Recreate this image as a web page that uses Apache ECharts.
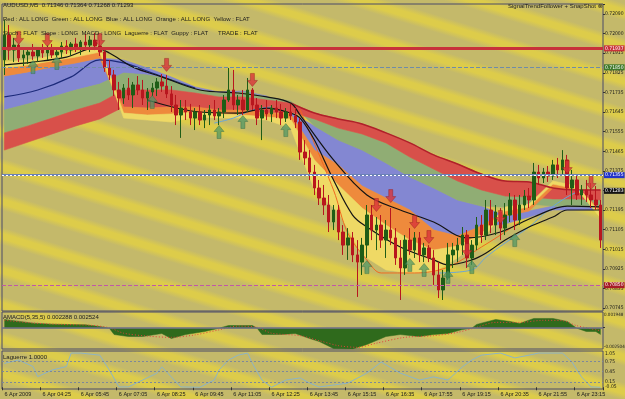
<!DOCTYPE html>
<html>
<head>
<meta charset="utf-8">
<script src="https://cdn.jsdelivr.net/npm/echarts@6.0.0/dist/echarts.min.js"></script>
<style>
html,body{margin:0;padding:0;background:#c5ba6b;}
#chart{width:625px;height:399px;background:repeating-linear-gradient(17deg,#c4b96a 0px,#c4b96a 16px,#ddcc4a 22px,#ddcc4a 27px,#c4b96a 33px);}
</style>
</head>
<body>
<div id="chart"></div>
<script>
// ---------- categories / ticks ----------
const candleCount = 126; // 10-minute slots
const categories = Array.from({length: candleCount}, (_, i) => i);
const xTickLabels = ['6 Apr 2009','6 Apr 04:25','6 Apr 05:45','6 Apr 07:05','6 Apr 08:25','6 Apr 09:45','6 Apr 11:05','6 Apr 12:25','6 Apr 13:45','6 Apr 15:15','6 Apr 16:35','6 Apr 17:55','6 Apr 19:15','6 Apr 20:35','6 Apr 21:55','6 Apr 23:15'];
const priceTickLabels = ['0.70745','0.70835','0.70925','0.71015','0.71105','0.71195','0.71285','0.71375','0.71465','0.71555','0.71645','0.71735','0.71825','0.71915','0.72000','0.72090'];

// ---------- candles ----------
const openP = [0.71884,0.71998,0.71929,0.71952,0.71893,0.71907,0.71920,0.71902,0.71929,0.71916,
0.71939,0.71907,0.71920,0.71948,0.71929,0.71957,0.71943,0.71966,0.71952,0.71975,
0.71948,0.71920,0.71847,0.71815,0.71746,0.71709,0.71755,0.71723,0.71769,0.71746,
0.71709,0.71737,0.71755,0.71783,0.71764,0.71728,0.71677,0.71631,0.71663,0.71645,
0.71617,0.71645,0.71608,0.71631,0.71654,0.71627,0.71645,0.71700,0.71746,0.71677,
0.71700,0.71654,0.71746,0.71677,0.71617,0.71654,0.71636,0.71663,0.71645,0.71617,
0.71645,0.71627,0.71599,0.71461,0.71434,0.71369,0.71296,0.71250,0.71218,0.71140,
0.71195,0.71094,0.71034,0.71067,0.70989,0.70956,0.71034,0.71172,0.71103,0.71126,
0.71057,0.71103,0.71067,0.70975,0.70929,0.71057,0.71011,0.71067,0.70989,0.71021,
0.70975,0.70897,0.70828,0.70883,0.70989,0.71011,0.71034,0.71080,0.70975,0.71034,
0.71126,0.71080,0.71195,0.71126,0.71186,0.71112,0.71172,0.71241,0.71149,0.71218,
0.71259,0.71241,0.71369,0.71342,0.71369,0.71351,0.71402,0.71379,0.71425,0.71296,
0.71333,0.71264,0.71287,0.71264,0.71241,0.71218];
const highP = [0.72067,0.72044,0.71985,0.71957,0.71929,0.71939,0.71957,0.71943,0.71957,0.71952,
0.71957,0.71939,0.71966,0.71975,0.71966,0.71985,0.71975,0.72003,0.71994,0.72008,
0.71975,0.71929,0.71884,0.71838,0.71783,0.71773,0.71801,0.71783,0.71810,0.71792,
0.71755,0.71778,0.71801,0.71819,0.71815,0.71764,0.71723,0.71700,0.71700,0.71682,
0.71663,0.71677,0.71654,0.71677,0.71700,0.71663,0.71723,0.71847,0.71838,0.71723,
0.71746,0.71801,0.71755,0.71709,0.71677,0.71700,0.71677,0.71700,0.71682,0.71663,
0.71682,0.71663,0.71617,0.71516,0.71470,0.71402,0.71333,0.71310,0.71264,0.71218,
0.71218,0.71126,0.71112,0.71094,0.71057,0.71067,0.71218,0.71218,0.71163,0.71172,
0.71149,0.71204,0.71112,0.71057,0.71080,0.71112,0.71094,0.71094,0.71044,0.71034,
0.71011,0.70956,0.70920,0.71044,0.71044,0.71067,0.71117,0.71103,0.71057,0.71163,
0.71172,0.71241,0.71241,0.71218,0.71204,0.71227,0.71273,0.71264,0.71264,0.71287,
0.71296,0.71411,0.71402,0.71388,0.71397,0.71425,0.71434,0.71470,0.71448,0.71379,
0.71356,0.71310,0.71333,0.71319,0.71305,0.71241];
const lowP = [0.71815,0.71884,0.71874,0.71874,0.71856,0.71865,0.71884,0.71874,0.71893,0.71884,
0.71893,0.71897,0.71893,0.71911,0.71902,0.71920,0.71907,0.71929,0.71920,0.71929,
0.71902,0.71829,0.71792,0.71718,0.71654,0.71682,0.71700,0.71663,0.71723,0.71677,
0.71654,0.71718,0.71718,0.71737,0.71709,0.71645,0.71585,0.71526,0.71608,0.71585,
0.71562,0.71585,0.71571,0.71585,0.71608,0.71585,0.71617,0.71691,0.71654,0.71631,
0.71631,0.71645,0.71654,0.71585,0.71516,0.71608,0.71599,0.71617,0.71585,0.71599,
0.71608,0.71571,0.71425,0.71402,0.71333,0.71264,0.71218,0.71172,0.71094,0.71103,
0.71057,0.70989,0.70966,0.70956,0.70796,0.70897,0.70975,0.71057,0.71011,0.71021,
0.70975,0.71034,0.70943,0.70782,0.70897,0.70989,0.70975,0.70956,0.70956,0.70956,
0.70851,0.70791,0.70782,0.70874,0.70929,0.70956,0.70989,0.70929,0.70943,0.71011,
0.71044,0.71057,0.71089,0.71080,0.71057,0.71080,0.71140,0.71103,0.71126,0.71195,
0.71204,0.71218,0.71310,0.71319,0.71324,0.71333,0.71342,0.71356,0.71264,0.71218,
0.71241,0.71218,0.71232,0.71204,0.71195,0.71021];
const closeP = [0.71998,0.71929,0.71952,0.71893,0.71907,0.71920,0.71902,0.71929,0.71916,0.71939,
0.71907,0.71920,0.71948,0.71929,0.71957,0.71943,0.71966,0.71952,0.71975,0.71948,
0.71920,0.71847,0.71815,0.71746,0.71709,0.71755,0.71723,0.71769,0.71746,0.71709,
0.71737,0.71755,0.71783,0.71764,0.71728,0.71677,0.71631,0.71663,0.71645,0.71617,
0.71645,0.71608,0.71631,0.71654,0.71627,0.71645,0.71700,0.71746,0.71677,0.71700,
0.71654,0.71746,0.71677,0.71617,0.71654,0.71636,0.71663,0.71645,0.71617,0.71645,
0.71627,0.71599,0.71461,0.71434,0.71369,0.71296,0.71250,0.71218,0.71140,0.71195,
0.71094,0.71034,0.71067,0.70989,0.70956,0.71034,0.71172,0.71103,0.71126,0.71057,
0.71103,0.71067,0.70975,0.70929,0.71057,0.71011,0.71067,0.70989,0.71021,0.70975,
0.70897,0.70828,0.70883,0.70989,0.71011,0.71034,0.71080,0.70975,0.71034,0.71126,
0.71080,0.71195,0.71126,0.71186,0.71112,0.71172,0.71241,0.71149,0.71218,0.71259,
0.71241,0.71369,0.71342,0.71369,0.71351,0.71402,0.71379,0.71425,0.71296,0.71333,
0.71264,0.71287,0.71264,0.71241,0.71218,0.71057];

// ---------- MA ribbon bands (sampled every 5 slots) ----------
const ribbonIdx = [0,5,10,15,20,25,30,35,40,45,50,55,60,65,70,75,80,85,90,95,100,105,110,115,120,125];
const redTop = [0.71549,0.71581,0.71617,0.71654,0.71686,0.71746,0.71746,0.71746,0.71732,0.71714,0.71714,0.71700,0.71686,0.71640,0.71613,0.71590,0.71549,0.71503,0.71448,0.71406,0.71360,0.71328,0.71324,0.71296,0.71287,0.71287];
const redBot = [0.71470,0.71507,0.71544,0.71581,0.71613,0.71668,0.71663,0.71668,0.71668,0.71654,0.71654,0.71640,0.71645,0.71613,0.71571,0.71544,0.71503,0.71438,0.71383,0.71328,0.71287,0.71259,0.71255,0.71246,0.71246,0.71241];
const greenTop = [0.71654,0.71682,0.71714,0.71746,0.71773,0.71824,0.71815,0.71796,0.71750,0.71732,0.71737,0.71714,0.71695,0.71613,0.71571,0.71544,0.71503,0.71438,0.71383,0.71328,0.71287,0.71259,0.71255,0.71246,0.71246,0.71241];
const greenBot = [0.71549,0.71581,0.71617,0.71654,0.71686,0.71746,0.71746,0.71746,0.71732,0.71714,0.71714,0.71700,0.71686,0.71581,0.71516,0.71470,0.71411,0.71347,0.71296,0.71241,0.71213,0.71209,0.71223,0.71213,0.71209,0.71209];
const blueTop = [0.71810,0.71829,0.71851,0.71870,0.71893,0.71884,0.71847,0.71806,0.71760,0.71737,0.71741,0.71718,0.71645,0.71581,0.71516,0.71470,0.71411,0.71347,0.71296,0.71241,0.71213,0.71168,0.71190,0.71213,0.71209,0.71209];
const blueBot = [0.71654,0.71682,0.71714,0.71746,0.71773,0.71824,0.71815,0.71792,0.71750,0.71732,0.71737,0.71714,0.71636,0.71470,0.71402,0.71305,0.71250,0.71195,0.71103,0.71076,0.71122,0.71131,0.71163,0.71195,0.71195,0.71195];
const orangeTop = [0.71847,0.71861,0.71879,0.71897,0.71920,0.71668,0.71663,0.71668,0.71668,0.71654,0.71654,0.71640,0.71636,0.71470,0.71402,0.71305,0.71250,0.71195,0.71103,0.71076,0.71122,0.71190,0.71209,0.71314,0.71301,0.71195];
const orangeBot = [0.71810,0.71829,0.71851,0.71870,0.71893,0.71640,0.71631,0.71636,0.71645,0.71636,0.71631,0.71622,0.71613,0.71425,0.71310,0.71204,0.71126,0.71057,0.71011,0.71030,0.71085,0.71168,0.71190,0.71296,0.71287,0.71181];
const yellowTop = [0.71874,0.71884,0.71902,0.71920,0.71943,0.71640,0.71631,0.71636,0.71645,0.71636,0.71631,0.71622,0.71613,0.71425,0.71310,0.71204,0.71126,0.71057,0.71011,0.71030,0.71085,0.71209,0.71223,0.71328,0.71305,0.71181];
const yellowBot = [0.71847,0.71861,0.71879,0.71897,0.71920,0.71617,0.71608,0.71599,0.71622,0.71617,0.71617,0.71608,0.71571,0.71287,0.71186,0.70989,0.70920,0.70906,0.70910,0.70975,0.71057,0.71190,0.71209,0.71314,0.71291,0.71158];

// ---------- moving-average lines ----------
const black1Idx = [0,6,13,19,22,27,33,41,49,55,60,62,69,76,83,90,97,104,111,118,125];
const black1Val = [0.71861,0.71874,0.71897,0.71939,0.71916,0.71851,0.71806,0.71746,0.71732,0.71714,0.71686,0.71631,0.71425,0.71264,0.71195,0.71140,0.71067,0.71094,0.71163,0.71213,0.71209];
const black2Idx = [30,41,49,55,60,62,65,69,73,76,83,90,93,98,101,105,110,115,118,125];
const black2Val = [0.71700,0.71645,0.71640,0.71663,0.71640,0.71617,0.71516,0.71333,0.71172,0.71117,0.71025,0.70966,0.70943,0.70966,0.70998,0.71057,0.71117,0.71163,0.71195,0.71195];
const orangeLineIdx = [62,69,72,76,79,86,93,100,104,108];
const orangeLineVal = [0.71654,0.71287,0.71089,0.70966,0.70906,0.70906,0.70933,0.71025,0.71080,0.71140];
const lightBlueAIdx = [44,48,52,56];
const lightBlueAVal = [0.71594,0.71617,0.71654,0.71668];
const lightBlueBIdx = [91,98,101,105,110,114,118,121];
const lightBlueBVal = [0.70906,0.70920,0.70979,0.71044,0.71117,0.71195,0.71255,0.71287];
const navyIdx = [0,7,14,20,25,31,35,40];
const navyVal = [0.71714,0.71746,0.71806,0.71884,0.71870,0.71824,0.71792,0.71755];

// ---------- signal arrows ----------
const sellArrowIdx = [3,9,20,34,52,78,81,86,89,97,104,118,123];
const sellArrowVal = [0.71985,0.71975,0.71975,0.71861,0.71792,0.71218,0.71259,0.71140,0.71071,0.71011,0.71163,0.71392,0.71319];
const buyArrowIdx = [6,11,31,45,50,59,76,85,88,93,98,107];
const buyArrowVal = [0.71851,0.71870,0.71691,0.71553,0.71599,0.71562,0.70933,0.70943,0.70920,0.70888,0.70933,0.71057];

// ---------- horizontal levels ----------
const levelRed = 0.71937, levelGreen = 0.71850, levelBlue = 0.71355, levelBid = 0.71283, levelPink = 0.70850;

// ---------- AMACD ----------
const amacdIdx = [0,6,10,17,20,22,23,26,29,33,35,38,42,45,47,52,53,54,58,61,64,66,69,73,76,80,83,87,90,93,96,98,99,103,106,108,111,115,118,120,122,124,125];
const amacdVal = [0.00105,0.00060,0.00048,0.00041,0.00020,0,-0.00076,-0.00100,-0.00100,-0.00064,-0.00124,-0.00076,-0.00040,0,0.00032,0.00032,0,-0.00076,-0.00076,-0.00064,-0.00124,-0.00160,-0.00244,-0.00250,-0.00196,-0.00100,-0.00076,-0.00100,-0.00076,-0.00064,-0.00016,0,0.00045,0.00105,0.00081,0.00057,0.00117,0.00117,0.00081,0,-0.00040,-0.00040,-0.00076];
const signalIdx = [0,6,12,18,22,25,30,35,40,45,49,53,56,62,66,70,74,78,84,90,95,99,103,108,113,117,120,125];
const signalVal = [0.00095,0.00062,0.00045,0.00035,0.00005,-0.00060,-0.00095,-0.00110,-0.00080,-0.00020,0.00025,0.00010,-0.00060,-0.00090,-0.00150,-0.00210,-0.00230,-0.00180,-0.00110,-0.00090,-0.00050,0.00010,0.00070,0.00070,0.00095,0.00090,0.00030,-0.00030];
const amacdMax = 0.001948, amacdMin = -0.002504;

// ---------- Laguerre ----------
const lagIdx = [0,3,6,7,10,13,14,16,20,22,24,26,29,32,33,35,37,41,44,45,47,49,51,52,54,56,59,62,64,66,72,76,79,83,87,90,93,96,98,100,104,107,110,112,117,119,121,123,125];
const lagVal = [0.69,0.79,0.60,0.31,0.50,0.60,0.99,0.99,0.93,0.50,0.01,0.01,0.21,0.41,0.59,0.30,0.01,0.00,0.21,0.50,0.79,0.93,0.99,0.69,0.21,0.00,0.21,0.27,0.12,0.01,0.12,0.41,0.73,0.41,0.21,0.30,0.21,0.59,0.79,0.93,0.99,0.85,0.93,0.99,0.99,0.73,0.30,0.01,0.00];
const lagLevels = [0.75,0.45,0.15];

// ---------- texts ----------
const headerLine1 = 'AUDUSD,M5  0.71346 0.71364 0.71268 0.71293';
const headerLine2 = 'Red : ALL LONG  Green : ALL LONG  Blue : ALL LONG  Orange : ALL LONG  Yellow : FLAT';
const headerLine3 = 'Stoch : FLAT  Slope : LONG  MACD : LONG  Laguerre : FLAT  Guppy : FLAT      TRADE : FLAT';
const indicatorTitle = 'SignalTrendFollower + SnapShot \u2297';
const amacdTitle = 'AMACD(5,35,5) 0.002288 0.002524';
const lagTitle = 'Laguerre 1.0000';

// ================= build =================
const FONT = '"Liberation Sans", "DejaVu Sans", sans-serif';
const NARROW = '"Liberation Sans Narrow", "DejaVu Sans Condensed", "Liberation Sans", sans-serif';
const pairs = (idx, vals) => idx.map((x, k) => [x, vals[k]]);
const candleData = openP.map((o, i) => [o, closeP[i], lowP[i], highP[i]]);

function band(top, bot, fill) {
  return {
    type: 'custom', xAxisIndex: 0, yAxisIndex: 0, z: 1, silent: true, animation: false,
    encode: {x: 0, y: [1, 2]},
    data: ribbonIdx.map((x, k) => [x, top[k], bot[k]]),
    renderItem(params, api) {
      if (params.dataIndex !== 0) return null;
      const pts = [];
      for (let k = 0; k < ribbonIdx.length; k++) pts.push(api.coord([ribbonIdx[k], top[k]]));
      for (let k = ribbonIdx.length - 1; k >= 0; k--) pts.push(api.coord([ribbonIdx[k], bot[k]]));
      return {type: 'polygon', shape: {points: pts}, style: {fill: fill, stroke: fill, lineWidth: 0.6}};
    }
  };
}
function lineS(idx, vals, color, width, z, extra) {
  return Object.assign({type: 'line', xAxisIndex: 0, yAxisIndex: 0, data: pairs(idx, vals), symbol: 'none',
    smooth: 0.35, z: z, silent: true, animation: false, lineStyle: {color: color, width: width}}, extra || {});
}
const boxLabel = (bg) => ({show: true, position: 'end', distance: 1, color: '#ffffff', fontSize: 5, fontFamily: NARROW,
  padding: [1, 1, 0, 1], backgroundColor: bg, formatter: p => Number(p.value).toFixed(5)});

const downArrow = 'path://M3,0 L7,0 L7,7 L10,7 L5,13 L0,7 L3,7 Z';
const upArrow = 'path://M5,0 L10,6 L7,6 L7,13 L3,13 L3,6 L0,6 Z';

const gridCommon = {left: 2, width: 601, show: true, borderColor: '#4b4b68', borderWidth: 1, backgroundColor: 'transparent', containLabel: false, outerBoundsMode: 'none'};

const option = {
  animation: false,
  backgroundColor: 'transparent',
  textStyle: {fontFamily: FONT},
  grid: [
    Object.assign({top: 4, height: 307}, gridCommon),
    Object.assign({top: 312, height: 37}, gridCommon),
    Object.assign({top: 351, height: 38}, gridCommon),
    // helper grid carrying the price tick labels (same scale as grid 0, bottom extended to a whole tick)
    {left: 2, width: 601, top: 4, height: 323.7, show: false, containLabel: false, outerBoundsMode: 'none'}
  ],
  xAxis: [0, 1, 2, 3].map(g => ({
    type: 'category', gridIndex: g, data: categories, boundaryGap: true, show: g === 2,
    axisLine: {show: false},
    axisTick: {show: g === 2, interval: (i) => i % 8 === 0, length: 3, lineStyle: {color: '#333'}},
    axisLabel: {show: g === 2, interval: (i) => i % 8 === 0, formatter: (v, i) => xTickLabels[i / 8] || '',
      fontSize: 5.5, color: '#1a1a1a', margin: 2, align: 'left', fontFamily: FONT},
    splitLine: {show: false}
  })),
  yAxis: [
    {type: 'value', gridIndex: 0, min: 0.707315, max: 0.721406, show: false},
    {type: 'value', gridIndex: 1, position: 'right', min: amacdMin, max: amacdMax, interval: amacdMax - amacdMin,
      axisLine: {show: false}, splitLine: {show: false}, axisTick: {show: false},
      axisLabel: {fontSize: 4.5, margin: 1, color: '#1a1a1a', fontFamily: NARROW, verticalAlignMaxLabel: 'top', verticalAlignMinLabel: 'bottom',
        formatter: v => Math.abs(v - amacdMax) < 1e-9 ? '0.001948' : (Math.abs(v - amacdMin) < 1e-9 ? '-0.002504' : '')}},
    {type: 'value', gridIndex: 2, position: 'right', min: -0.05, max: 1.05, interval: 1.1,
      axisLine: {show: false}, splitLine: {show: false}, axisTick: {show: false},
      axisLabel: {fontSize: 5, margin: 2, color: '#1a1a1a', fontFamily: NARROW, verticalAlignMaxLabel: 'top', verticalAlignMinLabel: 'bottom',
        formatter: v => Math.abs(v - 1.05) < 1e-9 ? '1.05' : (Math.abs(v + 0.05) < 1e-9 ? '-0.05' : '')}},
    {type: 'value', gridIndex: 3, position: 'right', min: -1, max: 15.507, interval: 1,
      axisLine: {show: false}, splitLine: {show: false},
      axisTick: {show: true, length: 2, lineStyle: {color: '#333'}},
      axisLabel: {fontSize: 5, margin: 2, color: '#1a1a1a', fontFamily: NARROW,
        formatter: v => { const k = Math.round(v); return (Math.abs(v - k) < 1e-6 && k >= 0 && k < priceTickLabels.length) ? priceTickLabels[k] : ''; }}}
  ],
  graphic: [
    {type: 'text', left: 3, top: 2, z: 100, style: {text: headerLine1, fontSize: 6, fontFamily: FONT, fill: '#1c1c1c'}},
    {type: 'text', left: 3, top: 16, z: 100, style: {text: headerLine2, fontSize: 6, fontFamily: FONT, fill: '#1c1c1c'}},
    {type: 'text', left: 3, top: 30, z: 100, style: {text: headerLine3, fontSize: 6, fontFamily: FONT, fill: '#1c1c1c'}},
    {type: 'text', left: 508, top: 3, z: 100, style: {text: indicatorTitle, fontSize: 6, fontFamily: FONT, fill: '#1c1c1c'}},
    {type: 'text', left: 3, top: 314, z: 100, style: {text: amacdTitle, fontSize: 6, fontFamily: FONT, fill: '#1c1c1c'}},
    {type: 'text', left: 3, top: 354, z: 100, style: {text: lagTitle, fontSize: 6, fontFamily: FONT, fill: '#1c1c1c'}}
  ],
  series: [
    band(blueTop, blueBot, '#8387d2'),
    band(greenTop, greenBot, '#90ad74'),
    band(redTop, redBot, '#d8504a'),
    band(orangeTop, orangeBot, '#ee8a3c'),
    band(yellowTop, yellowBot, '#efd965'),
    lineS(ribbonIdx.slice(12), redTop.slice(12), '#b0202a', 1.5, 2),
    lineS(navyIdx, navyVal, '#1c2a7a', 1.2, 2),
    lineS(lightBlueAIdx, lightBlueAVal, '#6aa6d8', 1, 3),
    lineS(lightBlueBIdx, lightBlueBVal, '#6aa6d8', 1, 3),
    lineS(orangeLineIdx, orangeLineVal, '#f06a20', 1, 3),
    lineS(black1Idx, black1Val, '#141414', 1.2, 3),
    lineS(black2Idx, black2Val, '#141414', 1.2, 3),
    {
      type: 'candlestick', xAxisIndex: 0, yAxisIndex: 0, z: 4, data: candleData, barWidth: 3, silent: true, animation: false,
      itemStyle: {color: '#1f5d16', color0: '#b8161e', borderColor: '#1f5d16', borderColor0: '#b8161e', borderWidth: 1},
      markLine: {
        symbol: ['none', 'none'], silent: true, animation: false, precision: 5,
        data: [
          {yAxis: levelRed, lineStyle: {color: '#c8313a', width: 3, type: 'solid'}, label: boxLabel('#c8313a')},
          {yAxis: levelGreen, lineStyle: {color: '#6f8ca8', width: 1, type: 'dashed'}, label: boxLabel('#3f7a2c')},
          {yAxis: levelBlue, lineStyle: {color: '#6a80b5', width: 2, type: 'solid'}, label: boxLabel('#2233c8')},
          {yAxis: levelBlue, lineStyle: {color: '#ffffff', width: 1, type: [2, 2]}, label: {show: false}},
          {yAxis: levelBid, lineStyle: {color: 'rgba(0,0,0,0)', width: 0.1}, label: boxLabel('#141414')},
          {yAxis: levelPink, lineStyle: {color: '#c058a8', width: 1, type: 'dashed'}, label: boxLabel('#a81c28')}
        ]
      }
    },
    {type: 'scatter', xAxisIndex: 0, yAxisIndex: 0, z: 6, symbol: downArrow, symbolSize: [10, 13], silent: true, animation: false,
      itemStyle: {color: '#d8353a', borderColor: '#8f1a1a', borderWidth: 0.5}, data: pairs(sellArrowIdx, sellArrowVal)},
    {type: 'scatter', xAxisIndex: 0, yAxisIndex: 0, z: 6, symbol: upArrow, symbolSize: [10, 13], silent: true, animation: false,
      itemStyle: {color: 'rgba(78,150,100,0.9)', borderColor: '#2f6a40', borderWidth: 0.5}, data: pairs(buyArrowIdx, buyArrowVal)},
    {type: 'line', xAxisIndex: 1, yAxisIndex: 1, data: pairs(amacdIdx, amacdVal), symbol: 'none', silent: true, animation: false, z: 2,
      lineStyle: {color: '#2c6a1a', width: 0.5}, areaStyle: {color: '#2f6a1c', opacity: 1, origin: 0},
      markLine: {symbol: ['none', 'none'], silent: true, animation: false, label: {show: false},
        data: [{yAxis: 0, lineStyle: {color: '#6e6e88', width: 1.5, type: 'solid'}}]}},
    {type: 'line', xAxisIndex: 1, yAxisIndex: 1, data: pairs(signalIdx, signalVal), symbol: 'none', silent: true, animation: false, z: 3,
      smooth: 0.3, lineStyle: {color: '#e0403a', width: 1, type: [1, 2]}},
    {type: 'line', xAxisIndex: 2, yAxisIndex: 2, data: pairs(lagIdx, lagVal), symbol: 'none', silent: true, animation: false, z: 3,
      lineStyle: {color: '#8db4c6', width: 1},
      markLine: {symbol: ['none', 'none'], silent: true, animation: false,
        label: {show: true, position: 'end', distance: 2, fontSize: 5, color: '#1a1a1a', fontFamily: NARROW, formatter: p => Number(p.value).toFixed(2)},
        lineStyle: {color: '#7d889a', width: 1, type: [2, 2]},
        data: lagLevels.map(v => ({yAxis: v}))}}
  ]
};

const chart = echarts.init(document.getElementById('chart'), null, {renderer: 'canvas'});
chart.setOption(option);
</script>
</body>
</html>
